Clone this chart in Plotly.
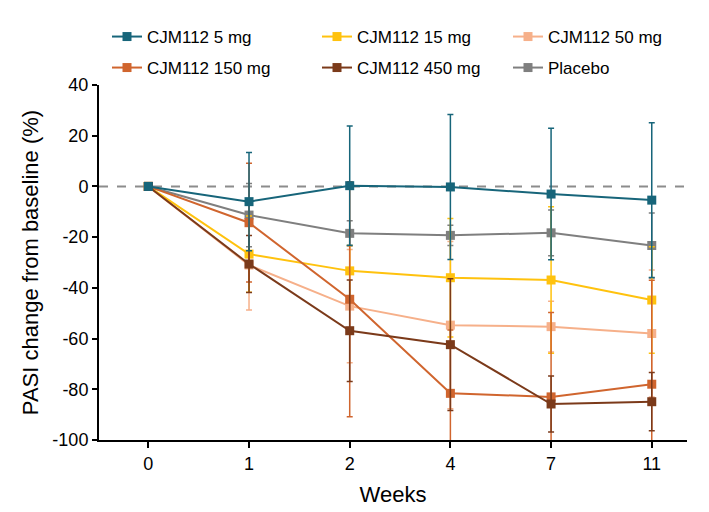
import plotly.graph_objects as go

weeks = ["0", "1", "2", "4", "7", "11"]
series_names = ["CJM112 5 mg", "CJM112 15 mg", "CJM112 50 mg", "CJM112 150 mg", "CJM112 450 mg", "Placebo"]
mg5 = [0, -6.0, 0.3, -0.2, -3.0, -5.4]
mg5_err = [0, 19.4, 23.5, 28.6, 25.9, 30.5]
mg15 = [0, -26.7, -33.3, -36.0, -36.9, -44.8]
mg15_err = [0, 15, 10, 23.4, 28.9, 21]
mg50 = [0, -31.0, -47.2, -54.7, -55.3, -58.0]
mg50_err = [0, 17.7, 22.3, 33, 10, 25]
mg150 = [0, -14.3, -44.5, -81.6, -83.0, -78.0]
mg150_err = [0, 23.4, 46.3, 25, 33.3, 41]
mg450 = [0, -30.6, -56.9, -62.4, -85.8, -84.9]
mg450_err = [0, 11.2, 20, 26, 11, 11.5]
placebo = [0, -11.3, -18.5, -19.3, -18.3, -23.3]
placebo_err = [0, 12.5, 5, 4, 9, 12.8]
ytick_vals = [40, 20, 0, -20, -40, -60, -80, -100]
ytick_text = ["40", "20", "0", "-20", "-40", "-60", "-80", "-100"]

colors = ["#17657A", "#FFC20E", "#F6B08A", "#D0652E", "#7B3A1A", "#7F7F7F"]
values = [mg5, mg15, mg50, mg150, mg450, placebo]
errors = [mg5_err, mg15_err, mg50_err, mg150_err, mg450_err, placebo_err]
draw_order = [5, 2, 1, 3, 4, 0]

# figure is drawn 8px inside the page (default body margin)
W, H = 701, 504
leg_x = [99, 309, 500]
leg_y = [29, 60]
legend_ids = ["legend", "legend2", "legend3", "legend4", "legend5", "legend6"]

xidx = list(range(len(weeks)))
fig = go.Figure()
for i in draw_order:
    fig.add_trace(go.Scatter(
        x=xidx, y=values[i], name=series_names[i], mode="lines+markers",
        line=dict(color=colors[i], width=2),
        marker=dict(symbol="square", size=9, color=colors[i]),
        error_y=dict(type="data", array=errors[i], color=colors[i], thickness=1.5, width=3),
        legend=legend_ids[i],
    ))

fig.add_shape(type="line", xref="paper", yref="y", x0=0, x1=1, y0=0, y1=0,
              line=dict(color="#8C8C8C", width=2, dash="dash"), layer="below")

font = "Liberation Sans, Arial, sans-serif"
legends = {}
for i, lid in enumerate(legend_ids):
    legends[lid] = dict(orientation="h", xref="container", x=leg_x[i % 3] / W, xanchor="left",
                        yref="container", y=1 - leg_y[i // 3] / H, yanchor="middle",
                        font=dict(size=17), itemwidth=30, bgcolor="rgba(0,0,0,0)")
fig.update_layout(
    width=W, height=H,
    margin=dict(l=91, r=22, t=77, b=72, autoexpand=False),
    plot_bgcolor="white", paper_bgcolor="white",
    font=dict(family=font, size=18, color="black"),
    showlegend=True,
    **legends,
    xaxis=dict(range=[-0.49, 5.35], tickvals=xidx, ticktext=weeks,
               showline=True, linecolor="black", linewidth=2, ticks="outside",
               ticklen=6, tickwidth=2, tickcolor="black", showgrid=False, zeroline=False,
               title=dict(text="Weeks", standoff=14), tickfont=dict(size=18)),
    yaxis=dict(range=[-100, 40], tickvals=ytick_vals, ticktext=ytick_text,
               showline=True, linecolor="black", linewidth=2, ticks="outside",
               ticklen=5, tickwidth=2, tickcolor="black", showgrid=False, zeroline=False,
               title=dict(text="PASI change from baseline (%)", standoff=8), tickfont=dict(size=18)),
)
fig.write_html("out.html")
